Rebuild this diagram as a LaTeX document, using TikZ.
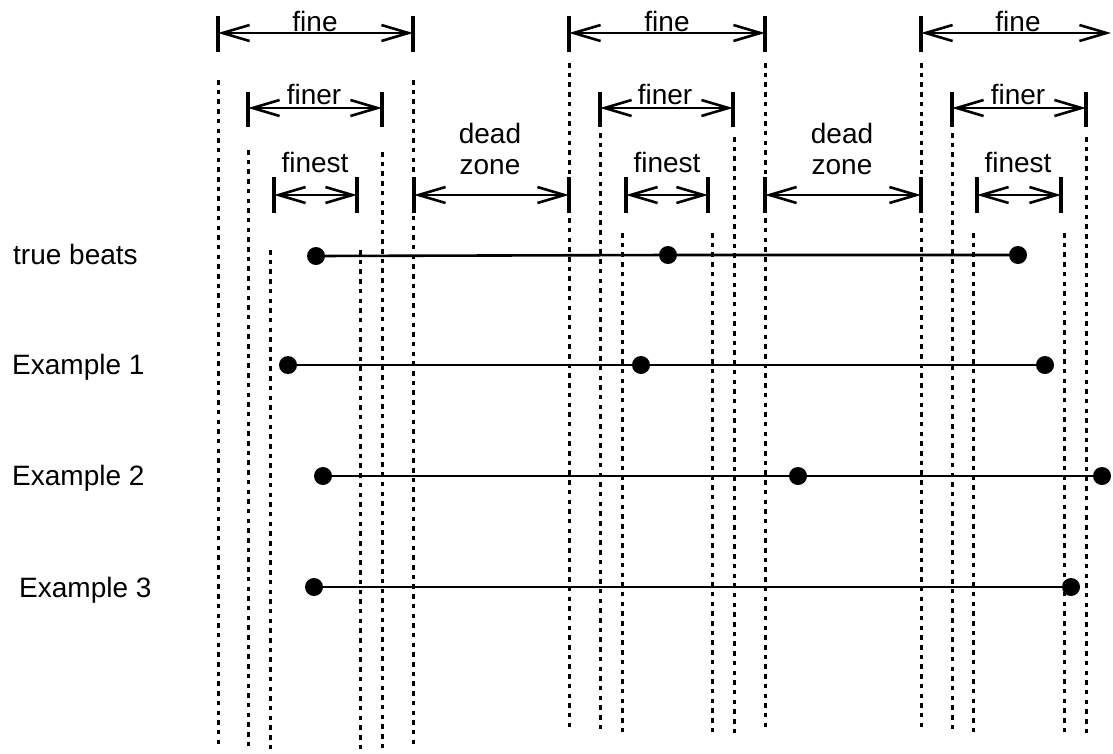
\documentclass[tikz,border=0pt]{standalone}
\usepackage{fontspec}
\setmainfont{Liberation Sans}
\usetikzlibrary{arrows.meta}
\tikzset{
  lab/.style={font=\fontsize{28}{33}\selectfont, inner sep=0pt, anchor=base},
  rowlab/.style={font=\fontsize{28}{33}\selectfont, inner sep=0pt, anchor=base west},
  dimline/.style={line width=2.6pt, {Straight Barb[length=27pt,width=16pt,line width=2.6pt]}-{Straight Barb[length=27pt,width=16pt,line width=2.6pt]}},
  endbar/.style={line width=3.2pt},
  gridline/.style={line width=3pt, dash pattern=on 4.5pt off 5.2pt},
  beat/.style={circle, fill=black, inner sep=0pt, minimum size=18pt},
  bline/.style={line width=2.6pt}
}
\begin{document}
\begin{tikzpicture}[x=1pt,y=-1pt]
\useasboundingbox (0,0) rectangle (1113,753);
% dotted guide lines
\foreach \n/\x/\a/\b in {
  g1/218/80/747, g2/248/150/747, g3/270/250/750, g4/360/250/750, g5/382/152/752, g6/413/80/747,
  h1/569/63/730, h2/600/133/733, h3/622/233/733, h4/712/233/733, h5/734/137/735, h6/765/63/730,
  k1/921/63/730, k2/952/133/733, k3/973/233/733, k4/1064/233/733, k5/1086/137/735}{
  \coordinate (\n t) at (\x,\a);
  \coordinate (\n b) at (\x,\b);
  \draw[gridline] (\n t) -- (\n b);
}
% end bars
\foreach \n/\x/\a/\b in {
  fa/218/16/52, fb/413/16/52, fc/569/16/52, fd/765/16/52, fe/921/16/52,
  ra/248/92/127, rb/382/92/127, rc/600/92/127, rd/733/92/127, re/952/92/127, rf/1086/92/127,
  sa/274/177/213, sb/357/177/213, sc/626/177/213, sd/708/177/213, se/977/177/213, sf/1061/177/213,
  da/414/177/213, db/569/177/213, dc/765/177/213, dd/921/177/213}{
  \coordinate (\n1) at (\x,\a);
  \coordinate (\n2) at (\x,\b);
  \draw[endbar] (\n1) -- (\n2);
}
% arrow end points
\coordinate (F1l) at (218,33);  \coordinate (F1r) at (413,33);
\coordinate (F2l) at (569,33);  \coordinate (F2r) at (765,33);
\coordinate (F3l) at (921,33);  \coordinate (F3r) at (1111,33);
\coordinate (R1l) at (248,108); \coordinate (R1r) at (382,108);
\coordinate (R2l) at (600,108); \coordinate (R2r) at (733,108);
\coordinate (R3l) at (952,108); \coordinate (R3r) at (1086,108);
\coordinate (S1l) at (274,195); \coordinate (S1r) at (357,195);
\coordinate (S2l) at (626,195); \coordinate (S2r) at (708,195);
\coordinate (S3l) at (977,195); \coordinate (S3r) at (1061,195);
\coordinate (D1l) at (414,195); \coordinate (D1r) at (569,195);
\coordinate (D2l) at (765,195); \coordinate (D2r) at (921,195);
\foreach \p in {F1,F2,F3,R1,R2,R3,S1,S2,S3,D1,D2}{
  \draw[dimline] (\p l) -- (\p r);
}
% texts
\node[lab] (tf1) at (315,31) {fine};
\node[lab] (tf2) at (667,31) {fine};
\node[lab] (tf3) at (1018,31) {fine};
\node[lab] (tr1) at (314,104) {finer};
\node[lab] (tr2) at (665,104) {finer};
\node[lab] (tr3) at (1018,104) {finer};
\node[lab] (ts1) at (315,172) {finest};
\node[lab] (ts2) at (667,172) {finest};
\node[lab] (ts3) at (1018,172) {finest};
\node[lab] (dd1) at (490,143) {dead};
\node[lab] (dz1) at (490,174) {zone};
\node[lab] (dd2) at (842,143) {dead};
\node[lab] (dz2) at (842,174) {zone};
% row labels
\node[rowlab] (L0) at (13,264) {true beats};
\node[rowlab] (L1) at (12,374) {Example 1};
\node[rowlab] (L2) at (12,485) {Example 2};
\node[rowlab] (L3) at (19,597) {Example 3};
% beats
\node[beat] (t1) at (316,256) {};
\node[beat] (t2) at (668,255) {};
\node[beat] (t3) at (1018,255) {};
\draw[bline] (t1) -- (t2) -- (t3);
\node[beat] (e11) at (288,365) {};
\node[beat] (e12) at (641,365) {};
\node[beat] (e13) at (1045,365) {};
\draw[bline] (e11) -- (e12) -- (e13);
\node[beat] (e21) at (323,476) {};
\node[beat] (e22) at (798,476) {};
\node[beat] (e23) at (1102,476) {};
\draw[bline] (e21) -- (e22) -- (e23);
\node[beat] (e31) at (314,587) {};
\node[beat] (e32) at (1071,587) {};
\draw[bline] (e31) -- (e32);
\end{tikzpicture}
\end{document}
